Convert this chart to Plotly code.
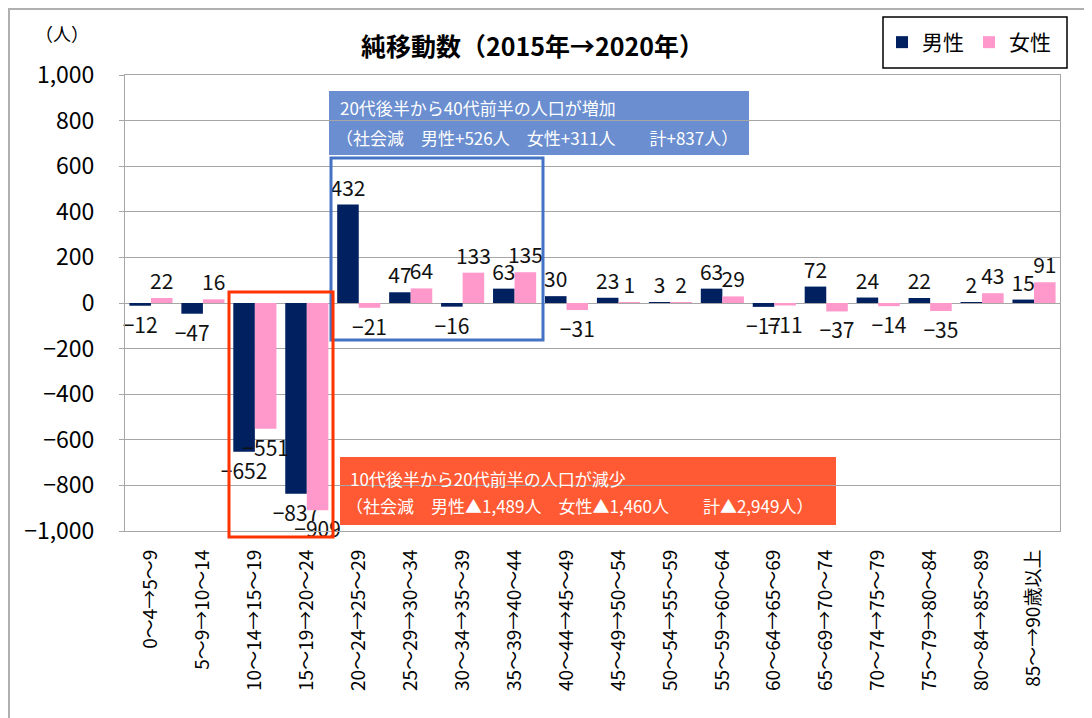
import plotly.graph_objects as go

# ---- data ----
categories = ["0～4→5～9", "5～9→10～14", "10～14→15～19", "15～19→20～24",
              "20～24→25～29", "25～29→30～34", "30～34→35～39", "35～39→40～44",
              "40～44→45～49", "45～49→50～54", "50～54→55～59", "55～59→60～64",
              "60～64→65～69", "65～69→70～74", "70～74→75～79", "75～79→80～84",
              "80～84→85～89", "85～→90歳以上"]
male = [-12, -47, -652, -837, 432, 47, -16, 63, 30, 23, 3, 63, -17, 72, 24, 22, 2, 15]
female = [22, 16, -551, -909, -21, 64, 133, 135, -31, 1, 2, 29, -11, -37, -14, -35, 43, 91]
y_tick_vals = [1000, 800, 600, 400, 200, 0, -200, -400, -600, -800, -1000]
y_tick_text = ["1,000", "800", "600", "400", "200", "0", "−200", "−400", "−600", "−800", "−1,000"]
series_names = ["男性", "女性"]
title_text = "純移動数（2015年→2020年）"
unit_text = "（人）"
up_note = ["20代後半から40代前半の人口が増加",
           "（社会減　男性+526人　女性+311人　　計+837人）"]
down_note = ["10代後半から20代前半の人口が減少",
             "（社会減　男性▲1,489人　女性▲1,460人　　計▲2,949人）"]

FONT = "Liberation Sans Narrow, Noto Sans CJK JP, sans-serif"
JFONT = "Noto Sans CJK JP, sans-serif"
NAVY = "#002060"
PINK = "#ff99cc"
GRID = "#a6a6a6"


def lab(v):
    return str(v).replace("-", "−")


fig = go.Figure()
for name, vals, col in [(series_names[0], male, NAVY), (series_names[1], female, PINK)]:
    fig.add_trace(go.Bar(
        x=categories, y=vals, name=name, marker=dict(color=col, line=dict(width=0)),
        text=[lab(v) for v in vals], textposition="outside", textangle=0,
        constraintext="none", cliponaxis=False,
        textfont=dict(family=FONT, size=21, color="#111111"),
    ))

# page has an 8px body margin; figure is sized so it fits the window
OFF = 8
W, H = 1092 - OFF, 718 - OFF
# plot area in screen pixels
L, R, T, B = 125, 1060, 75, 531
pw, ph = R - L, B - T


def px(x):
    return (x - L) / pw


def py(y):
    return (B - y) / ph


shapes = [
    dict(type="rect", xref="paper", yref="paper", x0=px(9), x1=px(1100), y0=py(730), y1=py(9),
         line=dict(color="#b0b0b0", width=2), fillcolor="rgba(0,0,0,0)", layer="below"),
    dict(type="rect", xref="paper", yref="paper", x0=px(329), x1=px(749), y0=py(155), y1=py(91),
         line=dict(width=0), fillcolor="#6a8ecf", layer="below"),
    dict(type="rect", xref="paper", yref="paper", x0=px(340), x1=px(836), y0=py(525), y1=py(457),
         line=dict(width=0), fillcolor="#ff5a33", layer="below"),
    dict(type="rect", xref="paper", yref="paper", x0=px(331), x1=px(543), y0=py(340), y1=py(158),
         line=dict(color="#4472c4", width=3), fillcolor="rgba(0,0,0,0)", layer="above"),
    dict(type="rect", xref="paper", yref="paper", x0=px(229), x1=px(333), y0=py(537), y1=py(292),
         line=dict(color="#ff3300", width=3), fillcolor="rgba(0,0,0,0)", layer="above"),
    # legend frame
    dict(type="rect", xref="paper", yref="paper", x0=px(883), x1=px(1067), y0=py(68), y1=py(17),
         line=dict(color="#000000", width=1.5), fillcolor="#ffffff", layer="below"),
]

annotations = [
    dict(text="<b>" + title_text + "</b>", xref="paper", yref="paper", x=px(532), y=py(45),
         showarrow=False, font=dict(family=FONT, size=25, color="#000000"), xanchor="center", yanchor="middle"),
    dict(text=unit_text, xref="paper", yref="paper", x=px(62), y=py(33),
         showarrow=False, font=dict(family=JFONT, size=18, color="#000000"), xanchor="center", yanchor="middle"),
    dict(text=up_note[0], xref="paper", yref="paper", x=px(338), y=py(108),
         showarrow=False, font=dict(family=FONT, size=17, color="#ffffff"), xanchor="left", yanchor="middle"),
    dict(text=up_note[1], xref="paper", yref="paper", x=px(334), y=py(137),
         showarrow=False, font=dict(family=FONT, size=17, color="#ffffff"), xanchor="left", yanchor="middle"),
    dict(text=down_note[0], xref="paper", yref="paper", x=px(348), y=py(478),
         showarrow=False, font=dict(family=FONT, size=17, color="#ffffff"), xanchor="left", yanchor="middle"),
    dict(text=down_note[1], xref="paper", yref="paper", x=px(344), y=py(505),
         showarrow=False, font=dict(family=FONT, size=17, color="#ffffff"), xanchor="left", yanchor="middle"),
]

fig.update_layout(
    width=W, height=H,
    margin=dict(l=L - OFF, r=1092 - R, t=T - OFF, b=718 - B, pad=0, autoexpand=False),
    paper_bgcolor="#ffffff", plot_bgcolor="rgba(0,0,0,0)",
    barmode="group", bargap=0.17, bargroupgap=0,
    font=dict(family=FONT, color="#000000"),
    showlegend=True,
    legend=dict(orientation="h", x=px(882), y=py(42.5), xanchor="left", yanchor="middle",
                borderwidth=0, bgcolor="rgba(0,0,0,0)",
                font=dict(family=JFONT, size=21, color="#000000"),
                itemwidth=30, tracegroupgap=0),
    shapes=shapes, annotations=annotations,
    xaxis=dict(type="category", tickangle=-90, showline=True, mirror=True, linecolor=GRID, linewidth=1,
               showgrid=False, ticks="", tickfont=dict(family=FONT, size=19, color="#000000"),
               ticklabelstandoff=10, automargin=False),
    yaxis=dict(range=[-1000, 1000], tickvals=y_tick_vals, ticktext=y_tick_text,
               showline=True, mirror=True, linecolor=GRID, linewidth=1,
               showgrid=True, gridcolor=GRID, gridwidth=1, zeroline=True, zerolinecolor=GRID, zerolinewidth=1,
               ticks="outside", ticklen=5, tickcolor=GRID, automargin=False,
               tickfont=dict(family=FONT, size=23, color="#000000"), ticklabelstandoff=20),
)

fig.write_html("out.html")
